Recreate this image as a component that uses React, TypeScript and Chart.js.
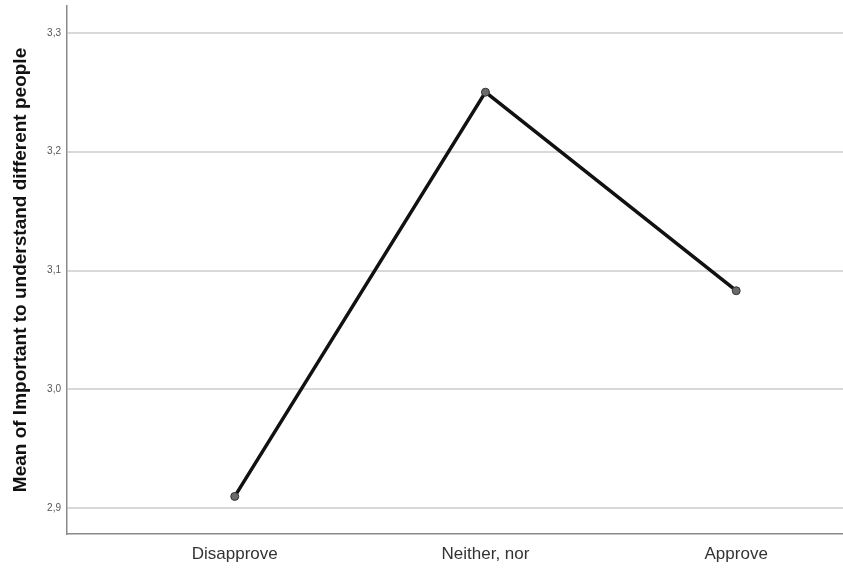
import React, { useEffect, useRef } from "react";
import { Chart, registerables } from "chart.js";

Chart.register(...registerables);

const categories = ["Disapprove", "Neither, nor", "Approve"];
const meanValues = [2.91, 3.25, 3.083];
const yTickValues = [2.9, 3.0, 3.1, 3.2, 3.3];
const yAxisTitle = "Mean of Important to understand different people";

const clearPadding = (scale: any) => {
  scale.paddingTop = 0;
  scale.paddingBottom = 0;
  scale.paddingLeft = 0;
  scale.paddingRight = 0;
};

export default function App() {
  const canvasRef = useRef<HTMLCanvasElement | null>(null);

  useEffect(() => {
    const ctx = canvasRef.current;
    if (!ctx) return;
    const chart = new Chart(ctx, {
      type: "line",
      data: {
        datasets: [
          {
            data: meanValues.map((v, i) => ({ x: i, y: v })),
            borderColor: "#111111",
            borderWidth: 3.5,
            pointRadius: 4,
            pointBackgroundColor: "#6a6a6a",
            pointBorderColor: "#333333",
            pointBorderWidth: 1,
            tension: 0,
            fill: false,
          },
        ],
      },
      options: {
        animation: false,
        responsive: false,
        devicePixelRatio: 1,
        layout: { autoPadding: false, padding: { top: 6, left: 0, right: 0, bottom: 0 } },
        plugins: {
          legend: { display: false },
          tooltip: { enabled: false },
        },
        scales: {
          x: {
            type: "linear",
            min: -0.669,
            max: 2.426,
            afterBuildTicks: (scale: any) => {
              scale.ticks = categories.map((_, i) => ({ value: i }));
            },
            afterFit: (scale: any) => {
              scale.height = 37;
              clearPadding(scale);
            },
            grid: { display: false, drawTicks: false },
            border: { display: true, color: "#8a8a8a", width: 1.5 },
            ticks: {
              padding: 10,
              color: "#333333",
              font: { family: "Arial, 'Liberation Sans', sans-serif", size: 17 },
              callback: (v: any) => categories[Math.round(Number(v))] ?? "",
            },
          },
          y: {
            type: "linear",
            min: 2.8784,
            max: 3.3225,
            afterBuildTicks: (scale: any) => {
              scale.ticks = yTickValues.map((v) => ({ value: v }));
            },
            afterFit: (scale: any) => {
              scale.width = 67;
              clearPadding(scale);
            },
            grid: { color: "#d9d9d9", lineWidth: 2, drawTicks: false },
            border: { display: true, color: "#8a8a8a", width: 1.5 },
            ticks: {
              padding: 6,
              color: "#555555",
              font: { family: "Arial, 'Liberation Sans', sans-serif", size: 10 },
              callback: (v: any) => Number(v).toFixed(1).replace(".", ","),
            },
            title: {
              display: true,
              text: yAxisTitle,
              color: "#111111",
              padding: { top: 9, bottom: 0 },
              font: { family: "Arial, 'Liberation Sans', sans-serif", size: 19, weight: "bold" },
            },
          },
        },
      },
    });
    return () => chart.destroy();
  }, []);

  return (
    <div style={{ position: "absolute", left: 0, top: 0, width: 843, height: 571, background: "#ffffff" }}>
      <canvas ref={canvasRef} width={843} height={571} style={{ display: "block", width: 843, height: 571 }} />
    </div>
  );
}
